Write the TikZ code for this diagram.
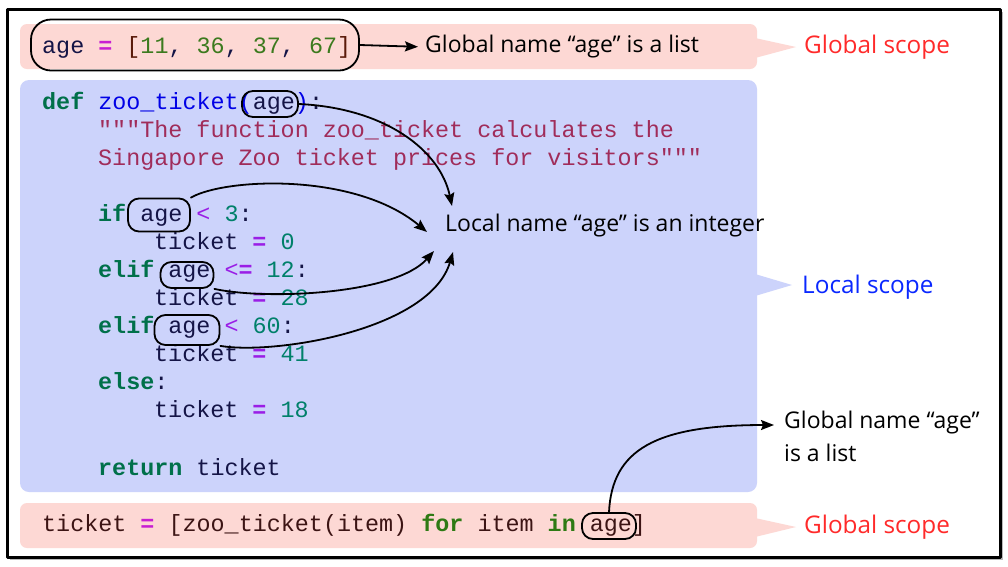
\documentclass[tikz,border=0pt]{standalone}
\usepackage{fontspec}
\setmainfont{Open Sans}
\setmonofont{Liberation Mono}
\usepackage{xcolor}
\usetikzlibrary{arrows.meta,calc,positioning}

\definecolor{globpink}{HTML}{FDD8D4}
\definecolor{locblue}{HTML}{CCD3FB}
\definecolor{globred}{HTML}{FF2A2A}
\definecolor{locscope}{HTML}{0A28FF}
\definecolor{kwgreen}{HTML}{00704A}
\definecolor{forgreen}{HTML}{2E7A14}
\definecolor{numolive}{HTML}{3C7A1E}
\definecolor{numteal}{HTML}{00806A}
\definecolor{opmag}{HTML}{C81ED2}
\definecolor{oppurple}{HTML}{9A1EE6}
\definecolor{fnblue}{HTML}{0000E6}
\definecolor{varnavy}{HTML}{141446}
\definecolor{docred}{HTML}{A02C5A}
\definecolor{brkbrown}{HTML}{5A1A0A}
\definecolor{compbrown}{HTML}{3C1414}

\newcommand{\pykw}[1]{\textcolor{kwgreen}{\textbf{#1}}}
\newcommand{\pyfor}[1]{\textcolor{forgreen}{\textbf{#1}}}
\newcommand{\pyop}[1]{\textcolor{oppurple}{#1}}
\newcommand{\pyeq}{\textcolor{oppurple}{\textbf{=}}}
\newcommand{\pygeq}{\textcolor{opmag}{\textbf{=}}}
\newcommand{\pynum}[1]{\textcolor{numteal}{#1}}

\begin{document}
\begin{tikzpicture}[x=1pt,y=-1pt,line cap=round,line join=round,
  >={Stealth[length=13pt,width=10pt,inset=2pt]},
  code/.style={anchor=base west,inner sep=0pt,text=varnavy,
    font=\ttfamily\fontsize{23.4}{28}\selectfont},
  note/.style={anchor=west,inner sep=0pt,align=left,
    font=\fontsize{23}{33}\selectfont},
  scopelbl/.style={anchor=west,inner sep=0pt,font=\fontsize{24.3}{28}\selectfont},
  agering/.style={draw,fill=none,line width=1.8pt,rounded corners=11pt,inner sep=0pt},
  arr/.style={->,line width=1.8pt}]
\useasboundingbox (0,0) rectangle (1008,566);

% frame
\fill[gray!55] (10,12) rectangle (1003,560);
\draw[line width=3pt,fill=white] (7,9) rectangle (1000,557);

% scope boxes
\fill[globpink,rounded corners=7pt] (20,24) rectangle (757,69);
\fill[globpink] (755,38) -- (796,47) -- (755,58) -- cycle;
\fill[locblue,rounded corners=9pt] (20,80) rectangle (757,492);
\fill[locblue] (755,274) -- (792,285) -- (755,296) -- cycle;
\fill[globpink,rounded corners=7pt] (20,503) rectangle (757,548);
\fill[globpink] (755,518) -- (796,527) -- (755,537) -- cycle;

\node[scopelbl,text=globred] (gscopetop) at (804,47) {Global scope};
\node[scopelbl,text=locscope] (lscope) at (802,287) {Local scope};
\node[scopelbl,text=globred] (gscopebot) at (804,527) {Global scope};

% code lines
\node[code] (lglob) at (42,53) {age \pygeq{} \textcolor{brkbrown}{[}\textcolor{numolive}{11}, \textcolor{numolive}{36}, \textcolor{numolive}{37}, \textcolor{numolive}{67}\textcolor{brkbrown}{]}};
\node[code] (ldef) at (42,109) {\pykw{def} \textcolor{fnblue}{zoo\_ticket(}age\textcolor{fnblue}{)}:};
\node[code,text=docred] (ldoca) at (98,137) {"""The function zoo\_ticket calculates the};
\node[code,text=docred] (ldocb) at (98,165) {Singapore Zoo ticket prices for visitors"""};
\node[code] (lif) at (98,221) {\pykw{if} age \pyop{<} \pynum{3}:};
\node[code] (lta) at (154,249) {ticket \pyeq{} \pynum{0}};
\node[code] (lelifa) at (98,277) {\pykw{elif} age \pyop{<}\pyeq{} \pynum{12}:};
\node[code] (ltb) at (154,305) {ticket \pyeq{} \pynum{28}};
\node[code] (lelifb) at (98,333) {\pykw{elif} age \pyop{<} \pynum{60}:};
\node[code] (ltc) at (154,361) {ticket \pyeq{} \pynum{41}};
\node[code] (lelse) at (98,389) {\pykw{else}:};
\node[code] (ltd) at (154,417) {ticket \pyeq{} \pynum{18}};
\node[code] (lret) at (98,475) {\pykw{return} ticket};
\node[code,text=compbrown] (lcomp) at (42,531) {ticket \pygeq{} [zoo\_ticket(item) \pyfor{for} item \pyfor{in} age]};

% rings round the names
\node[agering,rounded corners=20pt,minimum width=328pt,minimum height=51pt] (agetop) at (195,45) {};
\node[agering,minimum width=56pt,minimum height=26pt] (agedef) at (270,104) {};
\node[agering,minimum width=62pt,minimum height=33pt] (ageif) at (159,215) {};
\node[agering,minimum width=53pt,minimum height=26pt] (ageelifa) at (187,275) {};
\node[agering,minimum width=65pt,minimum height=30pt] (ageelifb) at (187,330) {};
\node[agering,minimum width=54pt,minimum height=26pt] (agebot) at (609,526) {};

% notes
\node[note] (glist) at (425,47) {Global name “age” is a list};
\node[note] (local) at (445,226) {Local name “age” is an integer};
\node[note] (gbotlist) at (784,436) {Global name “age”\\is a list};

\coordinate (tipdef) at (452,206);
\coordinate (tipif) at (427,232);
\coordinate (tipelifa) at (434,251);
\coordinate (tipelifb) at (453,252);
\coordinate (tipbot) at (774,425);

\draw[arr,shorten >=7pt] (agetop.east) -- (glist.west);
\draw[arr] (agedef.east) .. controls (385,108) and (440,150) .. (tipdef);
\draw[arr] (ageif.north east) .. controls (225,178) and (355,172) .. (tipif);
\draw[arr] (ageelifa.south east) .. controls (265,300) and (395,295) .. (tipelifa);
\draw[arr] (ageelifb.south east) .. controls (275,355) and (430,330) .. (tipelifb);
\draw[arr] (agebot.north) .. controls (612,450) and (655,425) .. (tipbot);
\end{tikzpicture}
\end{document}
